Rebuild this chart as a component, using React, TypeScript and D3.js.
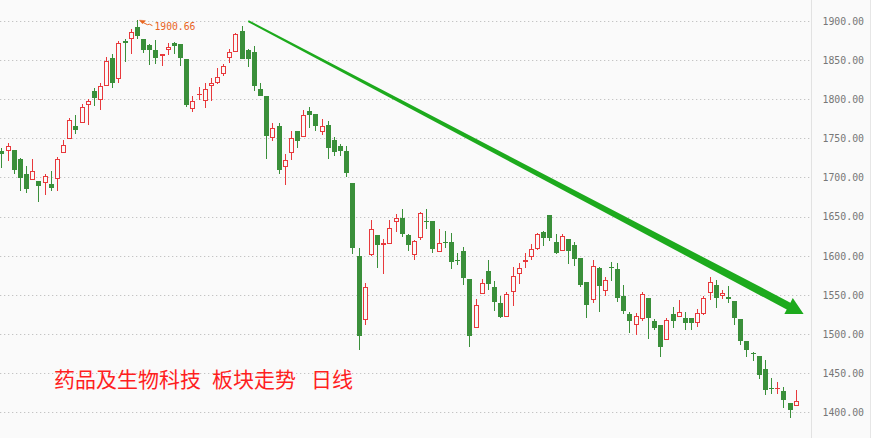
// Daily candlestick chart of the pharma & biotech sector, with a hand-drawn style
// downtrend arrow. Red hollow = up day, green filled = down day.

import * as d3 from "d3";

const opens = [
  1733, 1734, 1735, 1723, 1704, 1697, 1695, 1693, 1692, 1698,
  1731, 1749, 1765, 1770, 1793, 1810, 1799, 1816, 1853, 1825,
  1874, 1877, 1892, 1876.5, 1869, 1862, 1855, 1863, 1871, 1870,
  1850.5, 1787.5, 1805.5, 1798, 1816.5, 1820.5, 1832, 1852.5, 1860, 1887,
  1863, 1860, 1813, 1803.5, 1750, 1765, 1713, 1731, 1759, 1751,
  1785, 1781, 1758, 1767, 1748, 1740, 1734, 1693, 1600, 1518,
  1600.5, 1627, 1613.5, 1615, 1642.5, 1647.5, 1627, 1601, 1622.5, 1644.5,
  1644.5, 1605, 1617, 1617.5, 1594.5, 1606, 1570.5, 1507.5, 1551, 1581,
  1560.5, 1539, 1521.5, 1553.5, 1576, 1591.5, 1598.5, 1608.5, 1630, 1651.5,
  1617, 1606, 1621, 1613, 1596.5, 1566, 1543.5, 1584.5, 1555, 1586,
  1583.5, 1549, 1526, 1511, 1519, 1545.5, 1517, 1511.5, 1492, 1526,
  1521.5, 1520.5, 1520.5, 1514, 1526, 1552, 1563, 1549, 1547.5, 1542.5,
  1519.5, 1491.5, 1476, 1471.5, 1455.5, 1431.5, 1430, 1427.5, 1412, 1407.5,
];
const highs = [
  1738, 1744, 1735, 1725, 1714, 1723, 1695, 1704, 1708.5, 1726,
  1748, 1776, 1780, 1794, 1800, 1814.5, 1820, 1854, 1857, 1873.5,
  1877, 1889, 1900.66, 1877, 1870, 1875, 1858, 1871, 1873, 1870,
  1851, 1804, 1815, 1820, 1827, 1839, 1845, 1864, 1884, 1893.5,
  1864.5, 1867.5, 1820, 1803.5, 1769, 1769, 1730, 1759, 1759, 1786,
  1790, 1781, 1775, 1772, 1752, 1743, 1740, 1693, 1610, 1565,
  1645, 1627, 1621, 1645, 1653.5, 1659, 1628, 1620, 1656, 1660,
  1644.5, 1633.5, 1632, 1629.5, 1604, 1611, 1570.5, 1545, 1570, 1595,
  1568, 1549, 1553, 1585, 1591, 1604, 1615.5, 1628.5, 1631, 1652,
  1627.5, 1628, 1621, 1617, 1596.5, 1566, 1594, 1585.5, 1573, 1592.5,
  1590, 1563, 1528.5, 1526.5, 1553, 1545.5, 1519.5, 1511.5, 1520, 1535,
  1543, 1528.5, 1520.5, 1532, 1549, 1573, 1569, 1556.5, 1561, 1542.5,
  1519.5, 1491.5, 1477, 1471.5, 1467, 1444, 1438.5, 1432.5, 1412, 1429,
];
const lows = [
  1712, 1721, 1704, 1683, 1680, 1696, 1669, 1678, 1682, 1682,
  1731, 1749, 1755, 1770, 1767, 1791, 1786, 1816, 1814, 1820,
  1847, 1857, 1876, 1859, 1844, 1845, 1842, 1856, 1858, 1842,
  1790, 1784, 1799, 1788.5, 1797, 1819, 1830, 1846.5, 1860, 1851,
  1841, 1810, 1804, 1723, 1746, 1704, 1690, 1722, 1738, 1751,
  1763, 1759, 1753.5, 1723, 1727, 1727, 1700, 1602, 1480, 1511,
  1599, 1584, 1576, 1615, 1630, 1623.5, 1606, 1595, 1619.5, 1634,
  1603.5, 1605, 1609.5, 1582.5, 1588, 1562, 1484, 1507.5, 1551, 1556,
  1529, 1521, 1521.5, 1536, 1564, 1584.5, 1594.5, 1607, 1612.5, 1619,
  1602.5, 1606, 1589, 1587, 1560, 1520, 1539, 1527.5, 1549, 1568,
  1540.5, 1525, 1501, 1499, 1516.5, 1493, 1505, 1471, 1492, 1507,
  1521.5, 1505, 1504.5, 1508.5, 1524, 1543, 1533, 1544.5, 1539.5, 1511.5,
  1486, 1471, 1465, 1443, 1422.5, 1424, 1424, 1406, 1393, 1407.5,
];
const closes = [
  1729.5, 1740, 1710, 1699, 1685, 1708, 1688.5, 1702, 1687, 1723.5,
  1741.5, 1773.5, 1760, 1790, 1797, 1801, 1817, 1849, 1820, 1871,
  1872, 1885, 1881, 1863, 1863, 1852.5, 1858, 1866, 1868, 1853,
  1792, 1798, 1806, 1813, 1820, 1828.5, 1842.5, 1860.5, 1883, 1851,
  1851, 1817, 1804, 1752.5, 1763, 1710, 1722, 1750, 1747, 1779,
  1779, 1765, 1766, 1737, 1732, 1733, 1705, 1609.5, 1498, 1560,
  1634.5, 1613.5, 1616, 1635.5, 1648.5, 1627.5, 1613.5, 1619, 1654.5, 1643,
  1608, 1616.5, 1616, 1591.5, 1593, 1571, 1498, 1537, 1565, 1564,
  1540.5, 1521.5, 1551.5, 1574, 1584.5, 1594.5, 1608.5, 1627.5, 1622.5, 1622.5,
  1603.5, 1624.5, 1606, 1595.5, 1562, 1537, 1587, 1561, 1569, 1584,
  1545.5, 1529, 1516, 1523, 1551.5, 1520, 1507.5, 1484, 1517.5, 1516.5,
  1528, 1514.5, 1514, 1526.5, 1546, 1566.5, 1545.5, 1552, 1544.5, 1521,
  1491.5, 1479, 1474.5, 1448, 1429, 1430, 1431, 1416, 1403.5, 1414,
];

const priceTicks = [1400, 1450, 1500, 1550, 1600, 1650, 1700, 1750, 1800, 1850, 1900];
const titleParts = ["药品及生物科技", "板块走势", "日线"];
const maxIndex = 22;
const maxLabel = "1900.66";
// trend arrow, in data space: [candle index, price] at its tail and tip
const trendIdx = [40, 130.2];
const trendPrice = [1899.5, 1525.5];

const W = 871, H = 438;
const UP = "#e8393c", DOWN = "#3a8f3a", ARROW = "#1daa1d";
const MONO = "'DejaVu Sans Mono', monospace";

export default function App() {
  const idx = d3.range(opens.length);
  const x = d3.scaleBand<number>().domain(idx).range([-1.08, 799.3])
    .paddingInner(0.18).paddingOuter(0.09);
  const xc = d3.scaleLinear()
    .domain([0, idx.length - 1])
    .range([(x(0) ?? 0) + x.bandwidth() / 2, (x(idx.length - 1) ?? 0) + x.bandwidth() / 2]);
  const y = d3.scaleLinear().domain([1400, 1900]).range([412.3, 20.7]);
  const plotRight = 811.5;

  // tapered arrow polygon
  const [tx0, tx1] = trendIdx.map((i) => xc(i));
  const [ty0, ty1] = trendPrice.map((p) => y(p));
  const dx = tx1 - tx0, dy = ty1 - ty0, len = Math.hypot(dx, dy);
  const ux = dx / len, uy = dy / len, nx = -uy, ny = ux;
  const headLen = 17, headHalf = 9, w0 = 0.9, w1 = 3.9;
  const bx = tx1 - ux * headLen, by = ty1 - uy * headLen;
  const arrowPts: [number, number][] = [
    [tx0 + nx * w0, ty0 + ny * w0],
    [bx + nx * w1, by + ny * w1],
    [bx + nx * headHalf, by + ny * headHalf],
    [tx1, ty1],
    [bx - nx * headHalf, by - ny * headHalf],
    [bx - nx * w1, by - ny * w1],
    [tx0 - nx * w0, ty0 - ny * w0],
  ];

  const mx = xc(maxIndex), my = y(highs[maxIndex]);

  return (
    <svg width={W} height={H} style={{ position: "fixed", left: 0, top: 0, display: "block" }}>
      <rect width={W} height={H} fill="#fafafa" />

      {/* grid */}
      {priceTicks.map((t) => (
        <line key={t} x1={0} x2={plotRight} y1={Math.round(y(t)) + 0.5} y2={Math.round(y(t)) + 0.5}
              stroke="#c4c4c4" strokeWidth={1} strokeDasharray="1.3 2.7" />
      ))}
      <line x1={plotRight} x2={plotRight} y1={0} y2={H} stroke="#e2e2e2" />
      <line x1={870.5} x2={870.5} y1={0} y2={H} stroke="#e6e6e6" />

      {/* axis labels */}
      {priceTicks.map((t) => (
        <text key={t} x={822.5} y={y(t)} dy="0.36em" fontFamily={MONO}
              fontSize={11} fill="#777" textLength={41.5} lengthAdjust="spacingAndGlyphs">
          {t.toFixed(2)}
        </text>
      ))}

      {/* candles */}
      <g shapeRendering="crispEdges">
        {idx.map((i) => {
          const o = opens[i], c = closes[i], h = highs[i], l = lows[i];
          const L = Math.round(xc(i) - 2.5);
          const top = Math.round(y(Math.max(o, c)));
          const bot = Math.max(top + 1, Math.round(y(Math.min(o, c))));
          const yh = Math.round(y(h)), yl = Math.round(y(l));
          if (c >= o) {
            return (
              <g key={i}>
                {yh < top && <rect x={L + 2} y={yh} width={1} height={top - yh} fill={UP} />}
                {yl > bot && <rect x={L + 2} y={bot} width={1} height={yl - bot} fill={UP} />}
                {bot - top > 2
                  ? <rect x={L + 0.6} y={top + 0.6} width={3.8} height={bot - top - 1.2}
                          fill="#fafafa" stroke={UP} strokeWidth={1.2} />
                  : <rect x={L} y={top} width={5} height={bot - top} fill={UP} />}
              </g>
            );
          }
          return (
            <g key={i}>
              <rect x={L + 2} y={yh} width={1} height={Math.max(1, yl - yh)} fill={DOWN} />
              <rect x={L} y={top} width={5} height={bot - top} fill={DOWN} />
            </g>
          );
        })}
      </g>

      {/* max marker */}
      <g fill="#e8641e" stroke="#e8641e">
        <polygon points={`${mx + 2},${my} ${mx + 8},${my + 0.5} ${mx + 5},${my + 3.5}`} strokeWidth={0.5} />
        <path d={`M${mx + 5},${my + 2} L${mx + 10},${my + 4.5} L${mx + 12},${my + 4} L${mx + 15},${my + 5.5}`}
              fill="none" strokeWidth={1} />
        <text x={mx + 17} y={my + 9.5} stroke="none" fontFamily={MONO}
              fontSize={11} textLength={41} lengthAdjust="spacingAndGlyphs">{maxLabel}</text>
      </g>

      {/* trend arrow */}
      <polygon points={arrowPts.map((p) => p.join(",")).join(" ")} fill={ARROW} />

      {/* title */}
      <text y={387} fontFamily="'Noto Sans CJK SC', sans-serif" fontSize={21} fill="#ff1f1f">
        <tspan x={54}>{titleParts[0]}</tspan>
        <tspan x={212}>{titleParts[1]}</tspan>
        <tspan x={311}>{titleParts[2]}</tspan>
      </text>
    </svg>
  );
}
